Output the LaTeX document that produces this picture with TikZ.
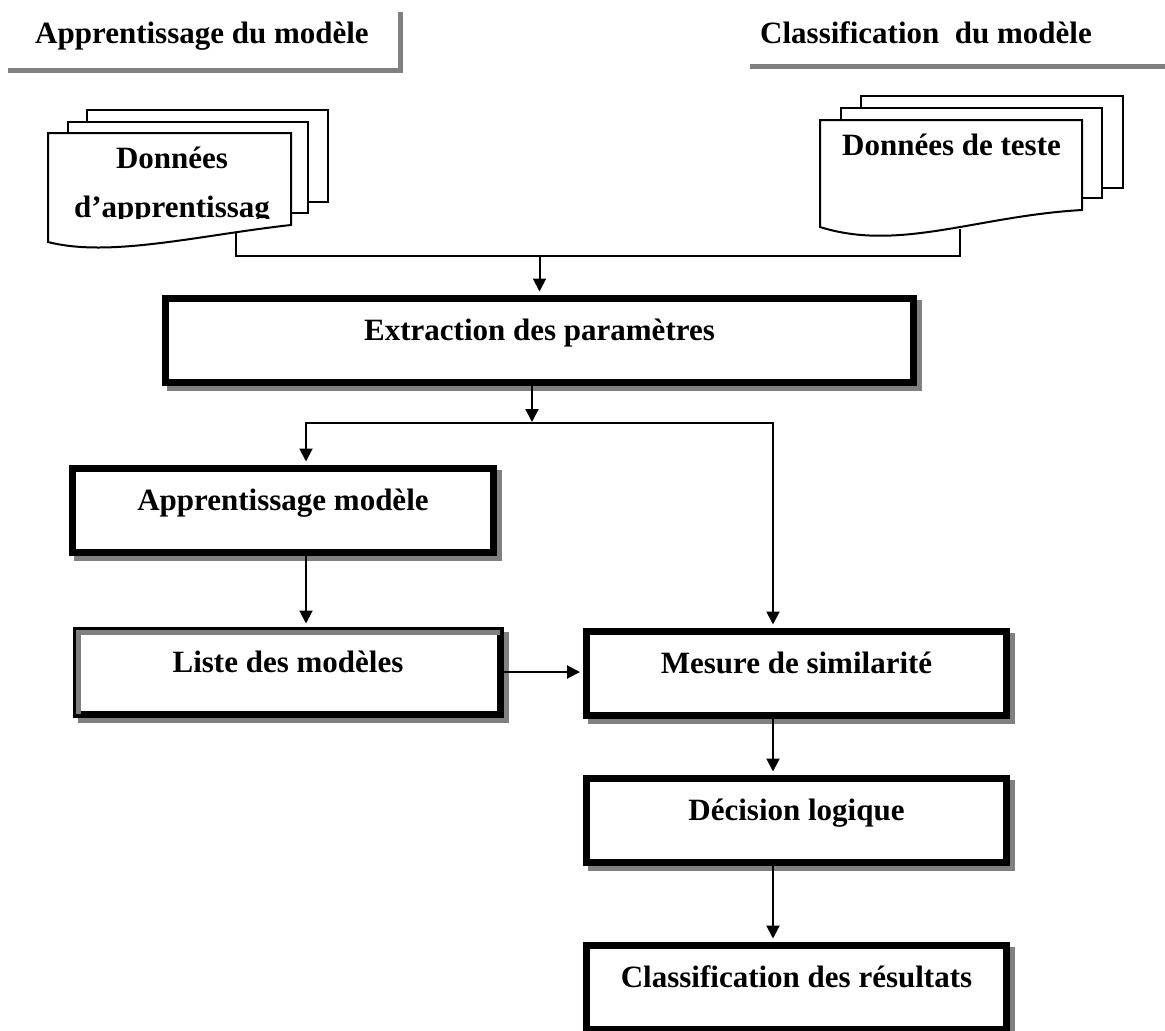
\documentclass[tikz,border=0pt]{standalone}
\usepackage{fontspec}
\setmainfont{Liberation Serif}
\usetikzlibrary{arrows.meta, positioning, calc}
\tikzset{
  box/.style={draw, line width=7pt, fill=white, inner sep=0pt, text height=42pt, text depth=42pt,
    minimum width=420pt, font=\bfseries\fontsize{31}{37}\selectfont,
    preaction={draw=gray, fill=gray, transform canvas={xshift=5pt, yshift=-5pt}}},
  lbl/.style={inner sep=0pt, font=\bfseries\fontsize{31}{37}\selectfont},
  sheet/.style={draw, line width=2pt, fill=white},
  link/.style={line width=2pt},
  arrow/.style={line width=2pt, -{Triangle[length=13pt, width=13pt]}, shorten >=3pt},
  hdrline/.style={draw=gray, line width=5pt}
}

\begin{document}
\begin{tikzpicture}[x=1pt, y=-1pt]
  \useasboundingbox (0,0) rectangle (1165,1031);

  % Headers
  \node[lbl, minimum width=392pt, text height=31pt, text depth=25pt] (hdrtrain) at (202,40) {Apprentissage du modèle};
  \draw[hdrline] ([xshift=2pt, yshift=-2.5pt]hdrtrain.south west) -| ([xshift=2.5pt]hdrtrain.north east);
  \node[lbl, anchor=base] (hdrtest) at (926,43) {Classification\ \ du modèle};
  \draw[hdrline] (750,66.5) -- (1165,66.5);

  % Training data
  \draw[sheet] (87,110) rectangle (328,202);
  \draw[sheet] (68,122) rectangle (308,213);
  \draw[sheet] (48,133) -- (291,133) -- (291,225) .. controls (200,235) and (110,258) .. (48,242) -- cycle;
  \node[lbl, anchor=base] (traintop) at (172,168) {Données};
  \begin{scope}
    \clip (48,180) rectangle (291,218);
    \node[lbl, anchor=base] (trainbot) at (172,217) {d’apprentissag};
  \end{scope}

  % Test data
  \draw[sheet] (861,96) rectangle (1123,188);
  \draw[sheet] (841,108) rectangle (1102,198);
  \draw[sheet] (820,120) -- (1082,120) -- (1082,210) .. controls (977,216) and (899,252) .. (820,227) -- cycle;
  \node[lbl, anchor=base] (testtxt) at (951.5,155) {Données de teste};

  % Steps
  \node[box, minimum width=748pt] (extract) at (539.5,340) {Extraction des paramètres};
  \node[box, minimum width=421pt] (appmod) at (283,510) {Apprentissage modèle};
  \node[box, minimum width=424pt] (liste) at (288,672) {Liste des modèles};
  \draw[gray, line width=5pt] ([xshift=6pt, yshift=3.5pt]liste.south west) |- ([xshift=-3.5pt, yshift=-6pt]liste.north east);
  \node[box] (mesure) at (796.5,673) {Mesure de similarité};
  \node[box] (decision) at (796.5,820) {Décision logique};
  \node[box] (classif) at (796.5,987) {Classification des résultats};

  % Connectors
  \coordinate (trainout) at (236,233);
  \coordinate (testout) at (960,229);
  \coordinate (merge) at (539.5,256);
  \coordinate (split) at (532,423);
  \draw[link] (trainout) |- (merge);
  \draw[link] (testout) |- (merge);
  \draw[arrow] (merge) -- (extract.north);
  \draw[arrow, shorten >=1pt] ([xshift=-7.5pt]extract.south) -- (split);
  \draw[arrow] (split) -| ([xshift=23pt]appmod.north);
  \draw[arrow] (split) -| ([xshift=-23.5pt]mesure.north);
  \draw[arrow] ([xshift=23pt]appmod.south) -- ([xshift=18pt]liste.north);
  \draw[arrow] ([xshift=-7pt]liste.east) -- (liste.east -| mesure.west);
  \draw[arrow] ([xshift=-23.5pt]mesure.south) -- ([xshift=-23.5pt]decision.north);
  \draw[arrow] ([xshift=-23.5pt]decision.south) -- ([xshift=-23.5pt]classif.north);
\end{tikzpicture}
\end{document}
